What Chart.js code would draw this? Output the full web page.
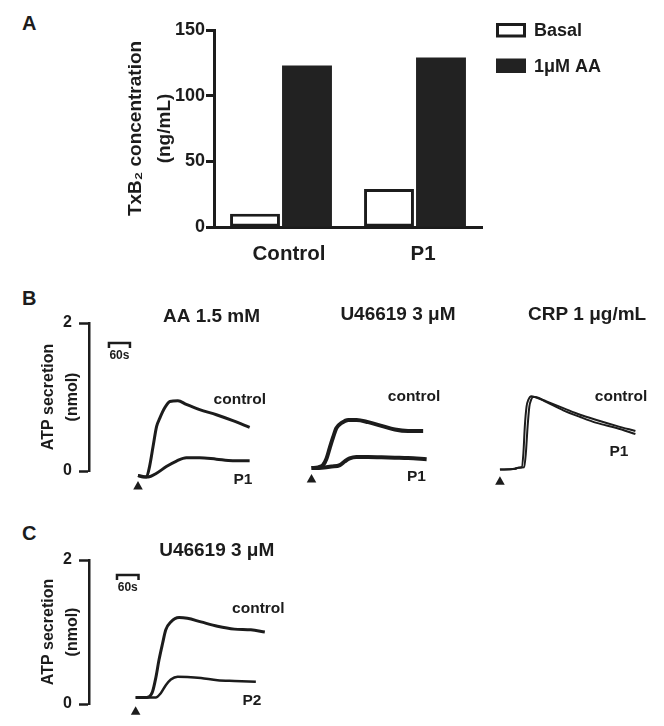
<!DOCTYPE html>
<html><head><meta charset="utf-8">
<script src="https://cdn.jsdelivr.net/npm/chart.js@4"></script>
<style>
html,body{margin:0;padding:0;background:#fff;width:664px;height:726px;overflow:hidden;position:relative;font-family:"Liberation Sans",Arial,sans-serif;}
canvas{position:absolute;}
.lbl{position:absolute;font-weight:bold;font-size:20px;line-height:20px;color:#1c1c1c;}
</style></head><body>
<div class="lbl" style="left:22px;top:13px">A</div>
<div class="lbl" style="left:22px;top:288px">B</div>
<div class="lbl" style="left:22px;top:523px">C</div>
<canvas id="cA" style="left:0;top:0" width="664" height="270"></canvas>
<canvas id="cB1" style="left:0;top:280px" width="290" height="220"></canvas>
<canvas id="cB2" style="left:290px;top:280px" width="175" height="220"></canvas>
<canvas id="cB3" style="left:470px;top:280px" width="194" height="220"></canvas>
<canvas id="cC" style="left:0;top:510px" width="300" height="216"></canvas>
<script>
// ---------- Panel A data ----------
const categories = ['Control', 'P1'];
const seriesLabels = ['Basal', '1μM AA'];
const basalTxB2 = [10, 29];
const aaTxB2 = [123, 129];

// ---------- Panel B data (time in s, ATP in nmol) ----------
const aaTime = [0, 24, 33, 43, 53, 62, 76, 91, 114, 138, 176, 224, 271, 319];
const aaControl = [-0.06, -0.08, 0.06, 0.33, 0.6, 0.71, 0.85, 0.94, 0.95, 0.9, 0.83, 0.76, 0.68, 0.59];
const aaP1Time = [0, 14, 29, 53, 81, 110, 138, 176, 224, 271, 319];
const aaP1 = [-0.06, -0.08, -0.08, -0.03, 0.06, 0.135, 0.18, 0.18, 0.16, 0.14, 0.14];

const uTime = [0, 19, 33, 43, 52, 62, 71, 86, 105, 129, 162, 200, 238, 276, 319];
const uControl = [0.04, 0.05, 0.08, 0.17, 0.31, 0.46, 0.58, 0.65, 0.69, 0.69, 0.66, 0.61, 0.56, 0.54, 0.54];
const uP1Time = [0, 29, 57, 81, 95, 109, 128, 162, 200, 238, 276, 329];
const uP1 = [0.04, 0.045, 0.06, 0.08, 0.13, 0.17, 0.19, 0.19, 0.185, 0.18, 0.175, 0.16];

const crpTime = [0, 43, 52, 62, 67, 71, 76, 81, 90, 100, 133, 181, 229, 276, 333, 387];
const crpControl = [0.02, 0.03, 0.045, 0.05, 0.24, 0.6, 0.87, 0.96, 1.01, 1.0, 0.94, 0.85, 0.76, 0.69, 0.61, 0.54];
const crpP1Time = [0, 43, 52, 69, 74, 79, 84, 89, 94, 100, 133, 181, 229, 276, 333, 387];
const crpP1 = [0.02, 0.03, 0.045, 0.05, 0.24, 0.6, 0.87, 0.96, 1.0, 1.0, 0.93, 0.82, 0.73, 0.65, 0.58, 0.5];

// ---------- Panel C data ----------
const cTime = [0, 23, 37, 47, 56, 65, 75, 84, 98, 121, 144, 182, 228, 275, 321, 360];
const cControl = [0.09, 0.09, 0.1, 0.17, 0.36, 0.61, 0.84, 1.03, 1.14, 1.2, 1.19, 1.14, 1.08, 1.04, 1.03, 1.0];
const cP2Time = [0, 42, 56, 70, 84, 98, 117, 144, 182, 228, 275, 335];
const cP2 = [0.09, 0.09, 0.09, 0.15, 0.26, 0.34, 0.38, 0.375, 0.36, 0.33, 0.32, 0.31];

// agonist addition (triangle marker): time and marker level per panel
const agonistTime = 0;
const markerLevel = {B1: -0.196, B2: -0.1, B3: -0.132, C: -0.094};

const INK = '#1c1c1c';
const FONT = '"Liberation Sans", Arial, Helvetica, sans-serif';
const bold = (s, lh) => ({family: FONT, size: s, weight: 'bold', lineHeight: lh || 1.2});

const annotPlugin = {
  id: 'annot',
  afterDatasetsDraw(chart, args, o) {
    const {ctx} = chart; const x = chart.scales.x, y = chart.scales.y;
    ctx.save();
    ctx.fillStyle = INK; ctx.strokeStyle = INK;
    ctx.textAlign = 'center'; ctx.textBaseline = 'middle';
    (o.texts || []).forEach(t => {
      ctx.font = `bold ${t.size}px ${FONT}`;
      ctx.fillText(t.text, x.getPixelForValue(t.x), y.getPixelForValue(t.y));
    });
    if (o.bar) {
      const b = o.bar;
      const x0 = x.getPixelForValue(b.x), x1 = x.getPixelForValue(b.x + b.len), yy = y.getPixelForValue(b.y);
      ctx.lineWidth = 2.5;
      ctx.beginPath();
      ctx.moveTo(x0, yy + 5); ctx.lineTo(x0, yy); ctx.lineTo(x1, yy); ctx.lineTo(x1, yy + 5);
      ctx.stroke();
      ctx.font = `bold 12px ${FONT}`;
      ctx.fillText(b.label, (x0 + x1) / 2, yy + 13);
    }
    if (o.marker) {
      const mx = x.getPixelForValue(o.marker.x), my = y.getPixelForValue(o.marker.y);
      ctx.beginPath();
      ctx.moveTo(mx, my - 4.5); ctx.lineTo(mx + 4.8, my + 4); ctx.lineTo(mx - 4.8, my + 4);
      ctx.closePath(); ctx.fill();
    }
    ctx.restore();
  }
};

const boxLegend = {
  id: 'boxLegend',
  afterDraw(chart, args, o) {
    const ctx = chart.ctx;
    ctx.save();
    chart.data.datasets.forEach((ds, i) => {
      const top = o.y + i * o.gap;
      ctx.fillStyle = ds.backgroundColor;
      ctx.fillRect(o.x, top, o.w, o.h);
      if (ds.borderWidth) {
        ctx.lineWidth = ds.borderWidth; ctx.strokeStyle = ds.borderColor;
        ctx.strokeRect(o.x + ds.borderWidth / 2, top + ds.borderWidth / 2, o.w - ds.borderWidth, o.h - ds.borderWidth);
      }
      ctx.fillStyle = INK; ctx.font = `bold 18px ${FONT}`;
      ctx.textAlign = 'left'; ctx.textBaseline = 'middle';
      ctx.fillText(ds.label, o.x + o.w + 8, top + o.h / 2 + 1);
    });
    ctx.restore();
  }
};

// ---------- Panel A ----------
new Chart(document.getElementById('cA'), {
  type: 'bar',
  data: {
    labels: categories,
    datasets: [
      {label: seriesLabels[0], data: basalTxB2, backgroundColor: '#ffffff', borderColor: INK, borderWidth: 3, borderSkipped: false},
      {label: seriesLabels[1], data: aaTxB2, backgroundColor: '#222222', borderColor: '#222222', borderWidth: 0}
    ]
  },
  options: {
    responsive: false, animation: false,
    categoryPercentage: 0.776, barPercentage: 0.96,
    layout: {padding: {top: 30, right: 182, left: 0, bottom: 0}},
    plugins: {legend: {display: false}, tooltip: {enabled: false},
      boxLegend: {x: 496, y: 23, w: 30, h: 14.5, gap: 35.5}},
    scales: {
      x: {
        afterFit: s => { s.height = 43; },
        grid: {display: false, drawTicks: false},
        border: {display: true, color: INK, width: 3},
        ticks: {color: INK, font: bold(20.5), padding: 15, labelOffset: 8}
      },
      y: {
        min: 0, max: 150,
        afterFit: s => { s.width = 214; },
        ticks: {stepSize: 50, color: INK, font: bold(18), padding: 1},
        grid: {display: true, drawOnChartArea: false, drawTicks: true, tickLength: 8, tickWidth: 3, tickColor: INK},
        border: {display: true, color: INK, width: 3},
        title: {display: true, text: ['TxB₂ concentration', '(ng/mL)'], color: INK, font: bold(19, 1.53), padding: {top: 121, bottom: 0}}
      }
    }
  },
  plugins: [boxLegend]
});

// ---------- trace charts ----------
function pts(t, v) { return t.map((tt, i) => ({x: tt, y: v[i]})); }
function traceDs(data, w) {
  return {data, borderColor: INK, borderWidth: w, pointRadius: 0, fill: false, cubicInterpolationMode: 'monotone', clip: false};
}
function yAxis(show) {
  if (!show) return {min: 0, max: 2, display: false};
  return {
    min: 0, max: 2,
    afterFit: s => { s.width = 89; },
    ticks: {stepSize: 2, color: INK, font: bold(16), padding: 7},
    grid: {display: true, drawOnChartArea: false, drawTicks: true, tickLength: 10, tickWidth: 2.5, tickColor: INK},
    border: {display: true, color: INK, width: 2.5},
    title: {display: true, text: ['ATP secretion', '(nmol)'], color: INK, font: bold(16, 1.53), padding: {top: 36, bottom: 0}}
  };
}
function traceChart(id, datasets, pad, xmin, xmax, showY, annot) {
  return new Chart(document.getElementById(id), {
    type: 'line',
    data: {datasets},
    options: {
      responsive: false, animation: false,
      layout: {padding: pad},
      plugins: {legend: {display: false}, tooltip: {enabled: false}, annot},
      scales: {x: {type: 'linear', min: xmin, max: xmax, display: false}, y: yAxis(showY)}
    },
    plugins: [annotPlugin]
  });
}

traceChart('cB1', [traceDs(pts(aaTime, aaControl), 3), traceDs(pts(aaP1Time, aaP1), 3)],
  {top: 43, bottom: 29, left: 0, right: 12}, -140, 400, true,
  {texts: [{text: 'AA 1.5 mM', x: 210, y: 2.08, size: 19}, {text: 'control', x: 291, y: 0.97, size: 15.5}, {text: 'P1', x: 300, y: -0.12, size: 15.5}],
   bar: {x: -83, len: 60, y: 1.73, label: '60s'},
   marker: {x: agonistTime, y: markerLevel.B1}});

traceChart('cB2', [traceDs(pts(uTime, uControl), 4), traceDs(pts(uP1Time, uP1), 4)],
  {top: 43, bottom: 29, left: 4, right: 10}, -50, 410, false,
  {texts: [{text: 'U46619 3 μM', x: 247, y: 2.11, size: 19}, {text: 'control', x: 293, y: 1.0, size: 15.5}, {text: 'P1', x: 300, y: -0.08, size: 15.5}],
   marker: {x: agonistTime, y: markerLevel.B2}});

traceChart('cB3', [traceDs(pts(crpTime, crpControl), 2), traceDs(pts(crpP1Time, crpP1), 2)],
  {top: 43, bottom: 29, left: 10, right: 9}, -57, 443, false,
  {texts: [{text: 'CRP 1 μg/mL', x: 249, y: 2.11, size: 19}, {text: 'control', x: 346, y: 1.0, size: 15.5}, {text: 'P1', x: 340, y: 0.26, size: 15.5}],
   marker: {x: agonistTime, y: markerLevel.B3}});

traceChart('cC', [traceDs(pts(cTime, cControl), 3), traceDs(pts(cP2Time, cP2), 2.5)],
  {top: 50, bottom: 22, left: 0, right: 28}, -130, 380, true,
  {texts: [{text: 'U46619 3 μM', x: 226, y: 2.125, size: 19}, {text: 'control', x: 342, y: 1.33, size: 15.5}, {text: 'P2', x: 324, y: 0.04, size: 15.5}],
   bar: {x: -52, len: 60, y: 1.79, label: '60s'},
   marker: {x: agonistTime, y: markerLevel.C}});
</script>
</body></html>
